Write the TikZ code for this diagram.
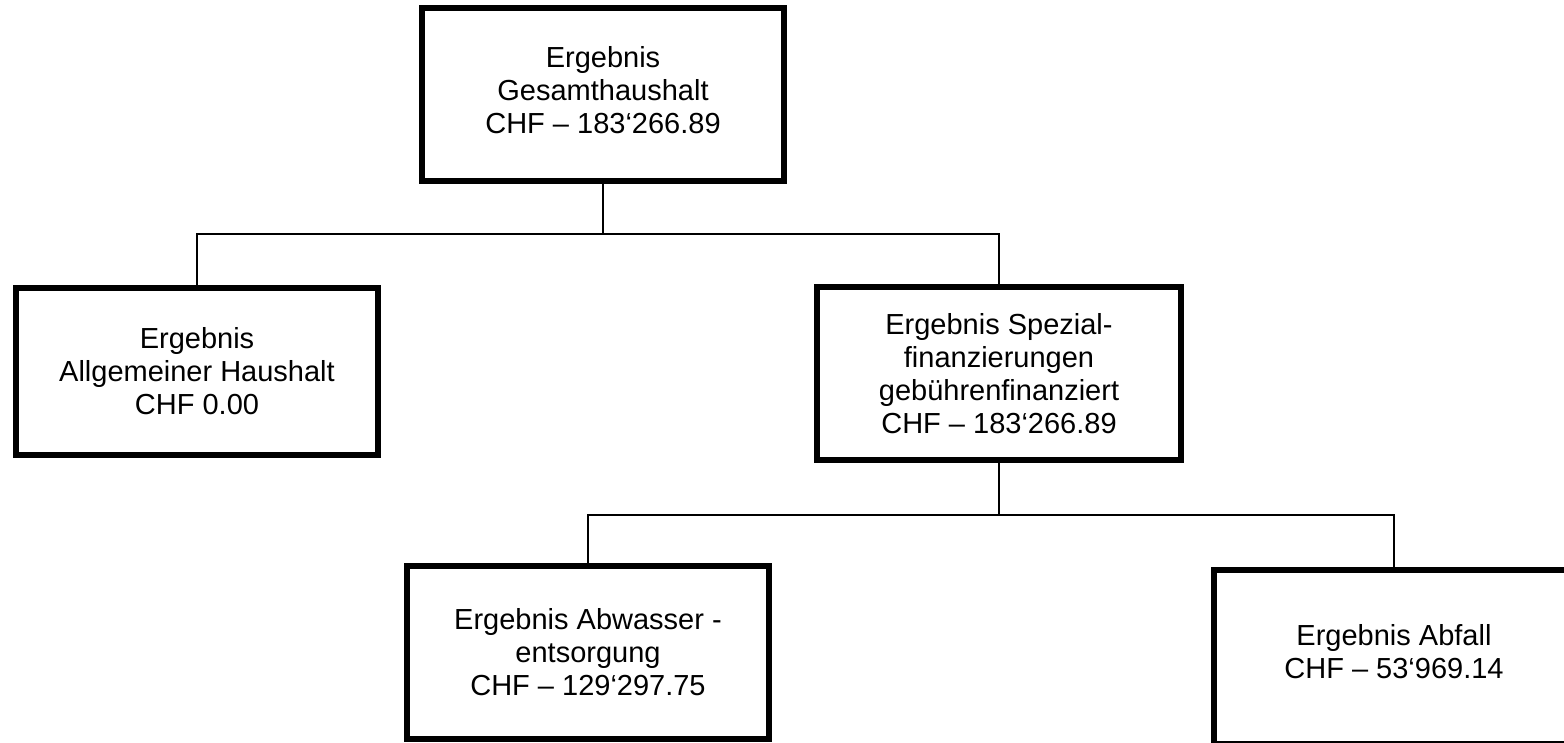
\documentclass[tikz,border=0pt]{standalone}
\usepackage{fontspec}
\setmainfont{Liberation Sans}
\begin{document}
\begin{tikzpicture}[x=0.5pt,y=-0.5pt,
  box/.style={draw, line width=3pt, rectangle, inner sep=0pt, align=center,
              font=\fontsize{14.5}{16.5}\selectfont},
  conn/.style={line width=0.7pt}]
\useasboundingbox (0,0) rectangle (1564,743);
\clip (0,0) rectangle (1564,743);
\node[box, minimum width=181pt, minimum height=86.5pt, text depth=4.5pt] (top) at (603,94.5)
  {Ergebnis\\Gesamthaushalt\\CHF – 183‘266.89};
\node[box, minimum width=181pt, minimum height=83.5pt] (left) at (197,371.5)
  {Ergebnis\\Allgemeiner Haushalt\\CHF 0.00};
\node[box, minimum width=182pt, minimum height=86.5pt] (right) at (999,373.5)
  {Ergebnis Spezial-\\finanzierungen\\gebührenfinanziert\\CHF – 183‘266.89};
\node[box, minimum width=181pt, minimum height=86.5pt] (bl) at (588,652.5)
  {Ergebnis Abwasser -\\entsorgung\\CHF – 129‘297.75};
\node[box, minimum width=180pt, minimum height=87pt, text depth=6pt] (br) at (1394,657)
  {Ergebnis Abfall\\CHF – 53‘969.14};
\coordinate (j1) at (603,234);
\coordinate (j2) at (999,515);
\draw[conn] (top.south) -- (j1);
\draw[conn] (left.north) -- (left.north |- j1) -- (right.north |- j1) -- (right.north);
\draw[conn] (right.south) -- (j2);
\draw[conn] (bl.north) -- (bl.north |- j2) -- (br.north |- j2) -- (br.north);
\end{tikzpicture}
\end{document}
